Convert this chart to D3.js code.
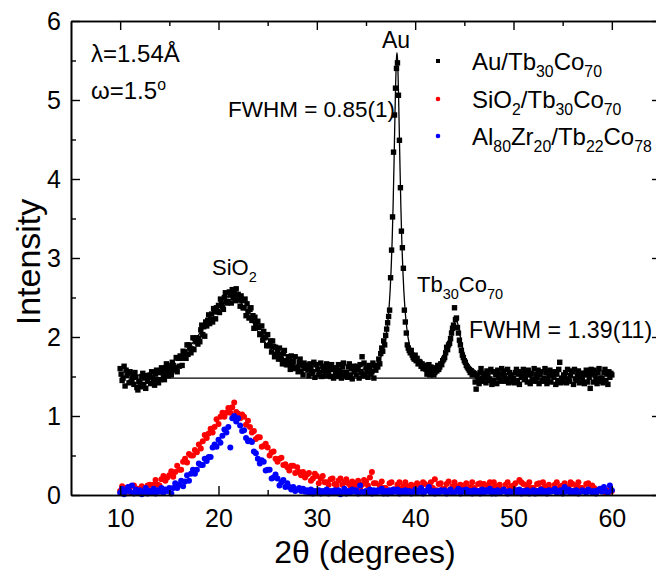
<!DOCTYPE html>
<html>
<head>
<meta charset="utf-8">
<script src="https://cdn.jsdelivr.net/npm/d3@7"></script>
<style>
  html, body { margin: 0; padding: 0; background: #fff; }
  svg { display: block; font-family: "Liberation Sans", Arial, sans-serif; }
</style>
</head>
<body>
<svg id="chart" width="656" height="572"></svg>
<script>
// ---------------- DATA ----------------
// sampling grid of the scans (2θ in degrees)
const scanStart = 10;
const auStep = 0.1;     // Au/Tb30Co70 scan step
const colorStep = 0.2;  // SiO2 and AlZr scans step

// Au/Tb30Co70 intensity, 10.0 .. 60.0 step 0.1 (one row per degree)
const auTbCo = [
1.60,1.53,1.45,1.48,1.63,1.38,1.58,1.51,1.54,1.42,
1.56,1.43,1.46,1.52,1.40,1.55,1.49,1.36,1.33,1.44,
1.43,1.37,1.50,1.54,1.40,1.48,1.35,1.51,1.44,1.49,
1.51,1.41,1.56,1.49,1.44,1.39,1.53,1.58,1.46,1.42,
1.55,1.46,1.61,1.55,1.50,1.46,1.61,1.66,1.55,1.51,
1.62,1.58,1.52,1.68,1.64,1.58,1.61,1.74,1.56,1.73,
1.63,1.76,1.73,1.64,1.82,1.74,1.80,1.73,1.90,1.78,
1.90,1.86,1.80,1.85,1.99,1.84,1.98,1.94,1.99,1.91,
1.98,1.94,2.09,2.15,2.03,2.13,2.01,2.19,2.14,2.21,
2.28,2.17,2.22,2.29,2.19,2.36,2.32,2.23,2.37,2.32,
2.40,2.31,2.48,2.42,2.38,2.35,2.50,2.56,2.45,2.43,
2.45,2.57,2.53,2.43,2.60,2.50,2.55,2.46,2.61,2.47,
2.54,2.47,2.39,2.52,2.46,2.37,2.37,2.48,2.27,2.42,
2.32,2.24,2.35,2.37,2.21,2.27,2.11,2.25,2.16,2.19,
2.20,2.12,2.03,2.04,2.14,1.96,2.07,1.99,2.00,1.89,
2.03,1.89,1.90,1.95,1.81,1.95,1.88,1.75,1.87,1.78,
1.83,1.72,1.86,1.78,1.72,1.66,1.79,1.83,1.70,1.65,
1.65,1.75,1.71,1.59,1.76,1.65,1.69,1.60,1.75,1.61,
1.62,1.56,1.68,1.72,1.57,1.65,1.52,1.67,1.60,1.64,
1.64,1.58,1.51,1.66,1.61,1.54,1.56,1.68,1.49,1.65,
1.65,1.59,1.52,1.55,1.67,1.50,1.63,1.57,1.60,1.51,
1.66,1.53,1.56,1.62,1.50,1.65,1.59,1.48,1.61,1.54,
1.60,1.50,1.65,1.58,1.53,1.48,1.62,1.67,1.55,1.51,
1.55,1.49,1.62,1.66,1.52,1.60,1.47,1.63,1.56,1.61,
1.52,1.63,1.59,1.48,1.65,1.55,1.75,1.51,1.67,1.53,
1.61,1.56,1.49,1.64,1.60,1.53,1.56,1.67,1.48,1.64,
1.58,1.64,1.62,1.72,1.66,1.79,1.86,1.82,1.95,1.90,
2.02,2.10,2.18,2.26,2.34,2.75,3.10,3.52,4.34,4.81,
5.15,5.40,5.47,5.06,4.49,3.89,3.34,3.13,2.87,2.34,
2.19,2.05,1.90,1.86,1.83,1.80,1.83,1.77,1.74,1.72,
1.77,1.70,1.73,1.66,1.69,1.68,1.63,1.66,1.60,1.64,
1.64,1.59,1.53,1.56,1.65,1.52,1.62,1.57,1.60,1.52,
1.55,1.61,1.57,1.64,1.59,1.62,1.66,1.65,1.70,1.72,
1.74,1.80,1.87,1.84,1.90,1.92,1.98,2.05,2.11,2.15,
2.37,2.22,2.24,2.12,2.05,1.96,1.90,1.83,1.77,1.74,
1.70,1.68,1.64,1.62,1.60,1.58,1.55,1.57,1.52,1.54,
1.53,1.43,1.34,1.51,1.46,1.41,1.55,1.60,1.48,1.44,
1.54,1.49,1.42,1.57,1.52,1.45,1.47,1.59,1.40,1.56,
1.45,1.56,1.52,1.41,1.58,1.48,1.53,1.44,1.60,1.46,
1.57,1.51,1.44,1.47,1.59,1.42,1.55,1.49,1.52,1.43,
1.48,1.42,1.55,1.59,1.45,1.53,1.40,1.56,1.49,1.54,
1.59,1.46,1.49,1.55,1.43,1.58,1.52,1.41,1.54,1.47,
1.46,1.60,1.44,1.53,1.48,1.58,1.41,1.52,1.56,1.45,
1.44,1.48,1.60,1.55,1.41,1.46,1.51,1.58,1.43,1.53,
1.54,1.49,1.56,1.40,1.53,1.45,1.59,1.68,1.42,1.48,
1.43,1.52,1.49,1.55,1.42,1.59,1.47,1.44,1.51,1.57,
1.56,1.40,1.59,1.47,1.45,1.52,1.57,1.42,1.49,1.54,
1.47,1.54,1.41,1.52,1.58,1.43,1.55,1.49,1.35,1.59,
1.53,1.43,1.58,1.51,1.46,1.41,1.55,1.60,1.48,1.44,
1.48,1.42,1.55,1.59,1.45,1.53,1.40,1.56,1.49,1.54,
1.52
];

// SiO2/Tb30Co70 intensity, 10.0 .. 60.0 step 0.2
const sio2TbCo = [
0.05,0.11,0.02,0.09,0.04, 0.10,0.03,0.12,0.05,0.08,
0.06,0.11,0.08,0.04,0.12, 0.13,0.06,0.13,0.19,0.13,
0.12,0.20,0.24,0.18,0.22, 0.25,0.30,0.23,0.29,0.37,
0.32,0.32,0.42,0.46,0.41, 0.52,0.50,0.50,0.57,0.54,
0.64,0.59,0.68,0.76,0.72, 0.78,0.84,0.79,0.86,0.96,
0.90,0.99,1.04,0.99,1.04, 1.10,1.04,1.11,1.17,1.05,
1.03,0.97,1.02,0.99,0.89, 0.94,0.86,0.79,0.81,0.71,
0.73,0.73,0.61,0.62,0.65, 0.60,0.50,0.54,0.55,0.46,
0.42,0.46,0.47,0.38,0.39, 0.35,0.31,0.37,0.37,0.28,
0.35,0.29,0.25,0.29,0.22, 0.26,0.28,0.18,0.21,0.27,
0.24,0.15,0.21,0.24,0.16, 0.16,0.13,0.20,0.21,0.14,
0.12,0.18,0.21,0.13,0.16, 0.20,0.15,0.12,0.17,0.11,
0.15,0.18,0.09,0.13,0.19, 0.17,0.12,0.22,0.29,0.15,
0.15,0.05,0.12,0.17,0.09, 0.09,0.05,0.15,0.16,0.07,
0.07,0.13,0.16,0.08,0.11, 0.16,0.11,0.08,0.13,0.07,
0.12,0.15,0.06,0.10,0.16, 0.14,0.06,0.12,0.16,0.09,
0.20,0.06,0.14,0.15,0.08, 0.08,0.14,0.17,0.07,0.11,
0.16,0.11,0.08,0.13,0.07, 0.12,0.15,0.06,0.10,0.16,
0.09,0.06,0.14,0.15,0.08, 0.14,0.06,0.12,0.16,0.09,
0.16,0.11,0.08,0.13,0.07, 0.07,0.13,0.16,0.08,0.11,
0.12,0.15,0.06,0.19,0.16, 0.14,0.06,0.12,0.16,0.09,
0.09,0.06,0.14,0.15,0.08, 0.16,0.11,0.08,0.13,0.07,
0.07,0.13,0.16,0.08,0.11, 0.12,0.15,0.06,0.10,0.16,
0.14,0.06,0.12,0.16,0.09, 0.09,0.06,0.14,0.15,0.08,
0.12,0.09,0.07,0.05,0.06, 0.05,0.08,0.03,0.06,0.04,
0.05
];

// Al80Zr20/Tb22Co78 intensity, 10.0 .. 60.0 step 0.2
const alZrTbCo = [
0.03,0.08,0.01,0.05,0.10, 0.04,0.12,0.02,0.07,0.03,
0.06,0.01,0.04,0.09,0.02, 0.05,0.03,0.08,0.02,0.06,
0.04,0.09,0.03,0.07,0.05, 0.09,0.02,0.09,0.15,0.09,
0.13,0.18,0.11,0.17,0.25, 0.18,0.27,0.32,0.27,0.32,
0.40,0.38,0.38,0.46,0.43, 0.48,0.48,0.60,0.64,0.61,
0.70,0.66,0.75,0.83,0.79, 0.86,0.60,0.97,1.00,0.93,
0.97,0.88,0.81,0.82,0.72, 0.68,0.69,0.67,0.55,0.53,
0.46,0.40,0.44,0.42,0.31, 0.32,0.32,0.21,0.22,0.26,
0.21,0.12,0.16,0.19,0.10, 0.15,0.10,0.07,0.10,0.05,
0.07,0.09,0.05,0.08,0.04, 0.06,0.03,0.07,0.02,0.05,
0.04,0.06,0.02,0.05,0.03, 0.07,0.02,0.05,0.03,0.06,
0.03,0.06,0.01,0.04,0.08, 0.02,0.05,0.03,0.07,0.04,
0.06,0.02,0.12,0.04,0.03, 0.05,0.03,0.07,0.02,0.06,
0.03,0.06,0.04,0.08,0.02, 0.05,0.02,0.06,0.03,0.07,
0.04,0.07,0.02,0.05,0.03, 0.06,0.03,0.05,0.02,0.04,
0.07,0.03,0.05,0.09,0.02, 0.04,0.06,0.10,0.03,0.05,
0.02,0.05,0.03,0.06,0.04, 0.06,0.02,0.04,0.07,0.03,
0.03,0.05,0.08,0.02,0.06, 0.04,0.07,0.03,0.05,0.02,
0.06,0.03,0.05,0.02,0.07, 0.03,0.06,0.04,0.08,0.02,
0.05,0.02,0.06,0.03,0.04, 0.07,0.04,0.02,0.05,0.03,
0.04,0.06,0.03,0.07,0.02, 0.05,0.03,0.06,0.02,0.04,
0.06,0.02,0.05,0.03,0.07, 0.03,0.05,0.02,0.06,0.04,
0.05,0.08,0.03,0.04,0.06, 0.02,0.10,0.04,0.07,0.03,
0.05,0.03,0.06,0.02,0.04, 0.06,0.04,0.03,0.07,0.05,
0.03,0.05,0.02,0.06,0.08, 0.04,0.10,0.05,0.03,0.12,
0.06
];

// fitted curve of the Au/Tb30Co70 scan: [2θ, intensity]
const fitCurve = [
[11,1.50],[12,1.52],[13,1.55],[14,1.60],[15,1.66],[16,1.75],[17,1.87],[18,2.03],
[19,2.22],[20,2.40],[20.6,2.48],[21.2,2.52],[21.8,2.49],[22.5,2.40],[23.2,2.25],
[24,2.07],[25,1.89],[26,1.76],[27,1.68],[28,1.63],[29,1.60],[30,1.58],[31,1.57],
[32,1.57],[33,1.57],[34,1.58],[35,1.60],[35.5,1.62],[36.15,1.67],[36.55,1.76],
[36.85,1.88],[37.15,2.11],[37.35,2.38],[37.45,2.58],[37.55,2.84],[37.65,3.18],
[37.75,3.63],[37.85,4.20],[37.9,4.52],[37.95,4.83],[38.0,5.12],[38.05,5.36],
[38.1,5.53],[38.15,5.60],[38.2,5.53],[38.25,5.36],[38.3,5.12],[38.35,4.83],
[38.4,4.52],[38.45,4.20],[38.55,3.63],[38.65,3.18],[38.75,2.84],[38.85,2.58],
[38.95,2.38],[39.15,2.11],[39.45,1.88],[39.75,1.76],[40.15,1.67],[40.6,1.63],
[41.0,1.61],[41.5,1.61],[42.0,1.62],[42.5,1.66],[43.0,1.74],[43.45,1.88],
[43.75,2.03],[43.95,2.16],[44.15,2.22],[44.35,2.16],[44.55,2.03],[44.85,1.85],
[45.15,1.72],[45.65,1.62],[46.15,1.57],[46.5,1.54],[47.0,1.52],[47.5,1.51]
];

// fitted background line: [2θ, intensity]
const backgroundLine = [[13.5,1.48],[46.5,1.48]];

const xMajorTicks = [10, 20, 30, 40, 50, 60];
const xMinorTicks = [15, 25, 35, 45, 55];
const yMajorTicks = [0, 1, 2, 3, 4, 5, 6];
const yMinorTicks = [0.5, 1.5, 2.5, 3.5, 4.5, 5.5];

// ---------------- CHART ----------------
const svg = d3.select("#chart");
const x = d3.scaleLinear().domain([5, 65]).range([71, 661]);
const y = d3.scaleLinear().domain([0, 6]).range([495, 21]);

const toPoints = (arr, step) => arr.map((v, i) => ({ t: scanStart + i * step, v }));
const blackPts = toPoints(auTbCo, auStep);
const redPts = toPoints(sio2TbCo, colorStep);
const bluePts = toPoints(alZrTbCo, colorStep);

// data: red then blue (blue on top)
svg.append("g").selectAll("circle").data(redPts).join("circle")
  .attr("cx", d => x(d.t)).attr("cy", d => y(d.v)).attr("r", 3).attr("fill", "#ff0000");
svg.append("g").selectAll("circle").data(bluePts).join("circle")
  .attr("cx", d => x(d.t)).attr("cy", d => y(d.v)).attr("r", 3).attr("fill", "#0000ff");

// black squares
svg.append("g").selectAll("rect").data(blackPts).join("rect")
  .attr("x", d => x(d.t) - 2.7).attr("y", d => y(d.v) - 2.7)
  .attr("width", 5.4).attr("height", 5.4).attr("fill", "#000");

// fit + background lines
const line = d3.line().x(d => x(d[0])).y(d => y(d[1])).curve(d3.curveMonotoneX);
svg.append("path").datum(backgroundLine).attr("d", line)
  .attr("fill", "none").attr("stroke", "#000").attr("stroke-width", 1.1);
svg.append("path").datum(fitCurve).attr("d", line)
  .attr("fill", "none").attr("stroke", "#000").attr("stroke-width", 1.3);

// axes
function styleAxis(g) {
  g.selectAll(".domain").attr("stroke", "#000").attr("stroke-width", 1.6);
  g.selectAll(".tick line").attr("stroke", "#000").attr("stroke-width", 1.4);
  g.selectAll("text").attr("fill", "#000").attr("font-size", 25)
    .attr("font-family", "'Liberation Sans', Arial, sans-serif");
}
const majorLen = 9, minorLen = 5;
// bottom
svg.append("g").attr("transform", "translate(0,495)")
  .call(d3.axisBottom(x).tickValues(xMinorTicks).tickSize(-minorLen).tickSizeOuter(0).tickFormat(""))
  .call(styleAxis);
svg.append("g").attr("transform", "translate(0,495)")
  .call(d3.axisBottom(x).tickValues(xMajorTicks).tickSize(-majorLen).tickSizeOuter(0).tickPadding(14))
  .call(styleAxis);
// top
svg.append("g").attr("transform", "translate(0,21)")
  .call(d3.axisTop(x).tickValues(xMinorTicks).tickSize(-minorLen).tickSizeOuter(0).tickFormat(""))
  .call(styleAxis);
svg.append("g").attr("transform", "translate(0,21)")
  .call(d3.axisTop(x).tickValues(xMajorTicks).tickSize(-majorLen).tickSizeOuter(0).tickFormat(""))
  .call(styleAxis);
// left
svg.append("g").attr("transform", "translate(71,0)")
  .call(d3.axisLeft(y).tickValues(yMinorTicks).tickSize(-minorLen).tickSizeOuter(0).tickFormat(""))
  .call(styleAxis);
svg.append("g").attr("transform", "translate(71,0)")
  .call(d3.axisLeft(y).tickValues(yMajorTicks).tickSize(-majorLen).tickSizeOuter(0).tickPadding(10).tickFormat(d3.format("d")))
  .call(styleAxis);
// right
svg.append("g").attr("transform", "translate(661,0)")
  .call(d3.axisRight(y).tickValues(yMinorTicks).tickSize(-minorLen).tickSizeOuter(0).tickFormat(""))
  .call(styleAxis);
svg.append("g").attr("transform", "translate(661,0)")
  .call(d3.axisRight(y).tickValues(yMajorTicks).tickSize(-majorLen).tickSizeOuter(0).tickFormat(""))
  .call(styleAxis);

// axis titles
svg.append("text").attr("x", 365).attr("y", 563).attr("text-anchor", "middle")
  .attr("font-size", 32).text("2θ (degrees)");
svg.append("text").attr("transform", "translate(40,262) rotate(-90)")
  .attr("text-anchor", "middle").attr("font-size", 34).text("Intensity");

// helper for text with subscripts/superscripts: parts = [[text, mode]], mode 0 normal, 1 sub, 2 sup
function richText(xp, yp, parts, size, anchor) {
  const t = svg.append("text").attr("x", xp).attr("y", yp).attr("font-size", size)
    .attr("text-anchor", anchor || "start");
  let shift = 0;
  parts.forEach(([s, mode]) => {
    const target = mode === 1 ? size * 0.3 : (mode === 2 ? -size * 0.38 : 0);
    const ts = t.append("tspan").text(s);
    if (target !== shift) ts.attr("dy", target - shift);
    if (mode) ts.attr("font-size", size * 0.66);
    shift = target;
  });
  return t;
}

// annotations
svg.append("text").attr("x", 91).attr("y", 62).attr("font-size", 24).text("λ=1.54Å");
richText(91, 99, [["ω=1.5", 0], ["o", 2]], 24);
svg.append("text").attr("x", 396).attr("y", 48).attr("font-size", 23).attr("text-anchor", "middle").text("Au");
svg.append("text").attr("x", 228).attr("y", 117).attr("font-size", 22.5).text("FWHM = 0.85(1)");
richText(212, 275, [["SiO", 0], ["2", 1]], 22);
richText(417, 292, [["Tb", 0], ["30", 1], ["Co", 0], ["70", 1]], 22);
svg.append("text").attr("x", 469).attr("y", 338).attr("font-size", 23.2).text("FWHM = 1.39(11)");

// legend
const legendRows = [
  { parts: [["Au/Tb", 0], ["30", 1], ["Co", 0], ["70", 1]], color: "#000", shape: "square" },
  { parts: [["SiO", 0], ["2", 1], ["/Tb", 0], ["30", 1], ["Co", 0], ["70", 1]], color: "#ff0000", shape: "circle" },
  { parts: [["Al", 0], ["80", 1], ["Zr", 0], ["20", 1], ["/Tb", 0], ["22", 1], ["Co", 0], ["78", 1]], color: "#0000ff", shape: "circle" }
];
const legendY = [61, 99, 136];
legendRows.forEach((r, i) => {
  if (r.shape === "square") {
    svg.append("rect").attr("x", 438 - 2).attr("y", legendY[i] - 2).attr("width", 4).attr("height", 4).attr("fill", r.color);
  } else {
    svg.append("circle").attr("cx", 438).attr("cy", legendY[i]).attr("r", 2.3).attr("fill", r.color);
  }
  richText(472, legendY[i] + 9, r.parts, 24);
});
</script>
</body>
</html>
